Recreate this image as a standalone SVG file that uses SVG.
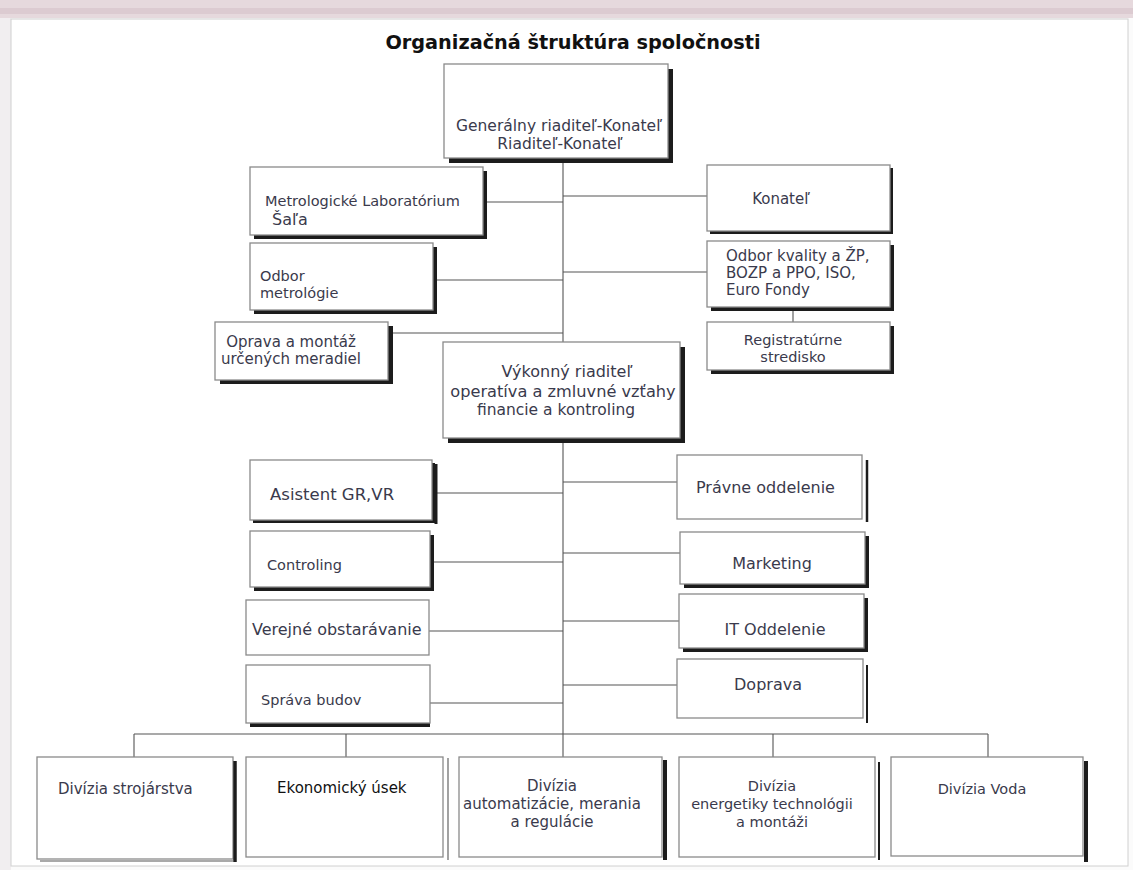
<svg xmlns="http://www.w3.org/2000/svg" width="1133" height="870" viewBox="0 0 1133 870">
<style>
.t{font-family:"DejaVu Sans",Verdana,sans-serif;fill:#3a3a4c;font-size:15px}
.c{text-anchor:middle}
.bx{fill:#fff;stroke:#8a8a8a;stroke-width:1.3}
.sh{fill:#1c1c1c}
.ln{stroke:#555;stroke-width:1.1;fill:none}
.rl{stroke:#1c1c1c;fill:none}
</style>
<rect x="0" y="0" width="1133" height="870" fill="#fbfbfb"/>
<rect x="0" y="0" width="1133" height="18" fill="#e6d9dd"/>
<rect x="0" y="8" width="1133" height="6" fill="#dccbd1"/>
<rect x="0" y="18" width="11" height="852" fill="#f1eef0"/>
<rect x="11" y="19" width="1117" height="847" fill="#ffffff" stroke="#d0d0d0" stroke-width="1"/>
<text class="t c" x="573" y="49" style="font-weight:bold;font-size:19.3px;fill:#111">Organizačná štruktúra spoločnosti</text>

<g id="connectors">
<path class="ln" d="M563 158V342M563 438V734"/>
<path class="ln" d="M483 202H563M433 280H563M388 333H563M563 196H707M563 272H707M793 307V322"/>
<path class="ln" d="M432 493H563M430 562H563M429 631H563M430 703H563M563 482H677M563 553H680M563 621H679M563 685H677"/>
<path class="ln" d="M134 734H988M134 734V757M346 734V757M563 734V757M773 734V757M988 734V757"/>
</g>

<g id="n-gen">
<rect class="sh" x="449" y="69" width="224" height="94"/>
<rect class="bx" x="444" y="64" width="224" height="94"/>
<text class="t c" x="559" y="131" style="font-size:15.5px">Generálny riaditeľ-Konateľ</text>
<text class="t c" x="560" y="149" style="font-size:15.5px">Riaditeľ-Konateľ</text>
</g>
<g id="n-metlab">
<rect class="sh" x="254" y="171" width="233" height="68"/>
<rect class="bx" x="250" y="167" width="233" height="68"/>
<text class="t" x="265" y="206" style="font-size:14.5px">Metrologické Laboratórium</text>
<text class="t" x="272" y="225" style="font-size:16px">Šaľa</text>
</g>
<g id="n-odbmet">
<rect class="sh" x="254" y="247" width="183" height="67"/>
<rect class="bx" x="250" y="243" width="183" height="67"/>
<text class="t" x="260" y="281" style="font-size:14.5px">Odbor</text>
<text class="t" x="260" y="298" style="font-size:14.5px">metrológie</text>
</g>
<g id="n-oprava">
<rect class="sh" x="220" y="326" width="173" height="58"/>
<rect class="bx" x="215" y="322" width="173" height="58"/>
<text class="t c" x="291" y="347">Oprava a montáž</text>
<text class="t c" x="291" y="364">určených meradiel</text>
</g>
<g id="n-konatel">
<rect class="sh" x="710" y="168" width="183" height="66"/>
<rect class="bx" x="707" y="165" width="183" height="66"/>
<text class="t c" x="781" y="204">Konateľ</text>
</g>
<g id="n-kvalita">
<rect class="sh" x="711" y="245" width="183" height="66"/>
<rect class="bx" x="707" y="241" width="183" height="66"/>
<text class="t" x="726" y="261">Odbor kvality a ŽP,</text>
<text class="t" x="726" y="278">BOZP a PPO, ISO,</text>
<text class="t" x="726" y="295">Euro Fondy</text>
</g>
<g id="n-registr">
<rect class="sh" x="711" y="326" width="183" height="48"/>
<rect class="bx" x="707" y="322" width="183" height="48"/>
<text class="t c" x="793" y="345" style="font-size:14.5px">Registratúrne</text>
<text class="t c" x="793" y="362" style="font-size:14.5px">stredisko</text>
</g>
<g id="n-vykonny">
<rect class="sh" x="448" y="347" width="237" height="96"/>
<rect class="bx" x="443" y="342" width="237" height="96"/>
<text class="t c" x="567" y="377" style="font-size:16px">Výkonný riaditeľ</text>
<text class="t c" x="563" y="397" style="font-size:16.2px">operatíva a zmluvné vzťahy</text>
<text class="t c" x="556" y="415" style="font-size:15.5px">financie a kontroling</text>
</g>
<g id="n-asistent">
<rect class="sh" x="253" y="463" width="182" height="60"/>
<rect class="bx" x="250" y="460" width="182" height="60"/>
<path class="rl" d="M436 464V524" stroke-width="3"/>
<text class="t" x="270" y="500" style="font-size:16.5px">Asistent GR,VR</text>
</g>
<g id="n-controling">
<rect class="sh" x="254" y="535" width="180" height="56"/>
<rect class="bx" x="250" y="531" width="180" height="56"/>
<text class="t" x="267" y="570" style="font-size:14.5px">Controling</text>
</g>
<g id="n-verejne">
<rect class="bx" x="246" y="600" width="183" height="55"/>
<text class="t" x="252" y="635" style="font-size:16px">Verejné obstarávanie</text>
</g>
<g id="n-sprava">
<rect class="sh" x="250" y="669" width="180" height="58"/>
<rect class="bx" x="246" y="665" width="184" height="58"/>
<text class="t" x="261" y="705" style="font-size:14.5px">Správa budov</text>
</g>
<g id="n-pravne">
<rect class="bx" x="677" y="455" width="185" height="64"/>
<path class="rl" d="M867 460V522" stroke-width="2.5"/>
<text class="t" x="696" y="493" style="font-size:16px">Právne oddelenie</text>
</g>
<g id="n-marketing">
<rect class="sh" x="684" y="536" width="185" height="52"/>
<rect class="bx" x="680" y="532" width="185" height="52"/>
<text class="t c" x="772" y="569" style="font-size:16px">Marketing</text>
</g>
<g id="n-it">
<rect class="sh" x="683" y="598" width="185" height="54"/>
<rect class="bx" x="679" y="594" width="185" height="54"/>
<text class="t c" x="775" y="635" style="font-size:16px">IT Oddelenie</text>
</g>
<g id="n-doprava">
<rect class="bx" x="677" y="659" width="186" height="59"/>
<path class="rl" d="M867 665V723" stroke-width="2"/>
<text class="t c" x="768" y="690" style="font-size:16px">Doprava</text>
</g>
<g id="n-stroj">
<rect class="bx" x="37" y="757" width="196" height="102"/>
<path class="rl" d="M235 761V862" stroke-width="3.5"/>
<path class="ln" d="M40 861H233"/>
<text class="t" x="58" y="794">Divízia strojárstva</text>
</g>
<g id="n-ekon">
<rect class="bx" x="246" y="757" width="197" height="100"/>
<path class="ln" d="M448 758V860" stroke="#888"/>
<text class="t" x="277" y="793" style="fill:#111">Ekonomický úsek</text>
</g>
<g id="n-autom">
<rect class="bx" x="459" y="757" width="203" height="100"/>
<path class="rl" d="M665 760V860" stroke-width="4"/>
<text class="t c" x="552" y="791">Divízia</text>
<text class="t c" x="552" y="809">automatizácie, merania</text>
<text class="t c" x="552" y="827">a regulácie</text>
</g>
<g id="n-energ">
<rect class="bx" x="679" y="757" width="196" height="100"/>
<path class="rl" d="M879 762V860" stroke-width="2"/>
<text class="t c" x="772" y="791" style="font-size:14.5px">Divízia</text>
<text class="t c" x="772" y="809" style="font-size:14.5px">energetiky technológii</text>
<text class="t c" x="772" y="827" style="font-size:14.5px">a montáži</text>
</g>
<g id="n-voda">
<rect class="bx" x="891" y="757" width="192" height="99"/>
<path class="rl" d="M1086 761V862" stroke-width="4"/>
<text class="t c" x="982" y="794" style="font-size:14.5px">Divízia Voda</text>
</g>
</svg>
